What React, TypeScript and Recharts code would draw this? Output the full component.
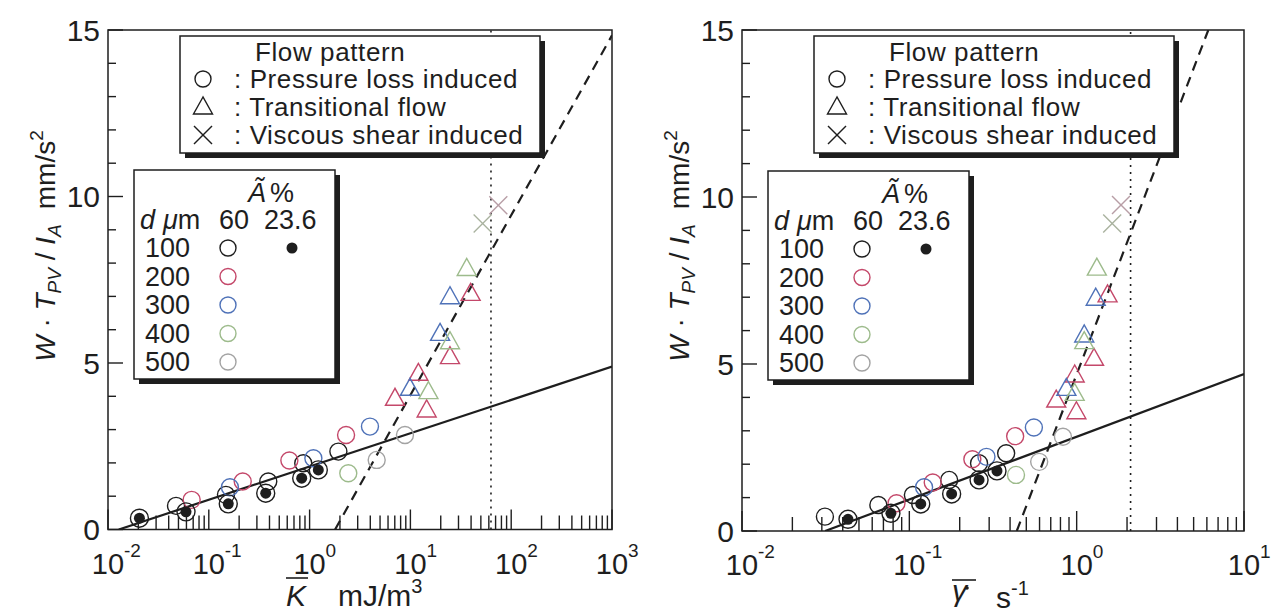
import React from "react";
import { ScatterChart, Scatter, XAxis, YAxis, ReferenceLine, ReferenceArea } from "recharts";

const FONT = '"Liberation Sans", Arial, Helvetica, sans-serif';
const INK = "#1e1e1e";
const RED = "#c4486a";
const BLUE = "#4f72b8";
const GREEN = "#9dbb8c";
const GREY = "#a3a3a3";
const MAUVE = "#b89ea6";
const SAGE = "#a9b29f";

// left panel: mean kinetic energy K (mJ/m3) vs W*Tpv/Ia
const kOpen100 = [{ x: 0.0473, y: 0.71 }, { x: 0.148, y: 1.04 }, { x: 0.389, y: 1.44 }, { x: 0.865, y: 1.99 }, { x: 1.93, y: 2.34 }];
const kOpen200 = [{ x: 0.0676, y: 0.89 }, { x: 0.217, y: 1.44 }, { x: 0.63, y: 2.07 }, { x: 2.3, y: 2.84 }];
const kOpen300 = [{ x: 0.162, y: 1.27 }, { x: 1.09, y: 2.14 }, { x: 3.97, y: 3.09 }];
const kOpen400 = [{ x: 2.42, y: 1.69 }];
const kOpen500 = [{ x: 4.63, y: 2.09 }, { x: 8.83, y: 2.84 }];
const kFilled100 = [{ x: 0.0205, y: 0.34 }, { x: 0.0594, y: 0.53 }, { x: 0.156, y: 0.77 }, { x: 0.367, y: 1.09 }, { x: 0.835, y: 1.54 }, { x: 1.22, y: 1.79 }];
const kTri200 = [{ x: 7.03, y: 3.94 }, { x: 12.0, y: 4.69 }, { x: 14.5, y: 3.59 }, { x: 24.7, y: 5.19 }, { x: 39.6, y: 7.09 }];
const kTri300 = [{ x: 9.9, y: 4.24 }, { x: 19.7, y: 5.89 }, { x: 24.7, y: 6.99 }];
const kTri400 = [{ x: 15.1, y: 4.14 }, { x: 24.7, y: 5.64 }, { x: 36.2, y: 7.84 }];
const kCross200 = [{ x: 74.5, y: 9.74 }];
const kCross400 = [{ x: 52.1, y: 9.19 }];
const kFitLow = [{ x: 0.0128, y: 0 }, { x: 1000, y: 4.89 }];
const kFitHigh = [{ x: 1.79, y: 0 }, { x: 1000, y: 14.84 }];
const kLimit = 63;

// right panel: mean shear rate (1/s)
const gOpen100 = [{ x: 0.0313, y: 0.43 }, { x: 0.0653, y: 0.78 }, { x: 0.105, y: 1.08 }, { x: 0.173, y: 1.53 }, { x: 0.261, y: 2.03 }, { x: 0.379, y: 2.33 }];
const gOpen200 = [{ x: 0.0838, y: 0.83 }, { x: 0.138, y: 1.45 }, { x: 0.238, y: 2.15 }, { x: 0.429, y: 2.84 }];
const gOpen300 = [{ x: 0.1225, y: 1.31 }, { x: 0.289, y: 2.22 }, { x: 0.555, y: 3.1 }];
const gOpen400 = [{ x: 0.434, y: 1.68 }];
const gOpen500 = [{ x: 0.597, y: 2.07 }, { x: 0.828, y: 2.82 }];
const gFilled100 = [{ x: 0.043, y: 0.35 }, { x: 0.0776, y: 0.53 }, { x: 0.117, y: 0.81 }, { x: 0.179, y: 1.11 }, { x: 0.261, y: 1.53 }, { x: 0.334, y: 1.8 }];
const gTri200 = [{ x: 0.755, y: 3.92 }, { x: 0.973, y: 4.67 }, { x: 0.996, y: 3.57 }, { x: 1.27, y: 5.17 }, { x: 1.53, y: 7.07 }];
const gTri300 = [{ x: 0.868, y: 4.27 }, { x: 1.11, y: 5.87 }, { x: 1.3, y: 6.97 }];
const gTri400 = [{ x: 0.973, y: 4.12 }, { x: 1.11, y: 5.67 }, { x: 1.32, y: 7.87 }];
const gCross200 = [{ x: 1.84, y: 9.76 }];
const gCross400 = [{ x: 1.63, y: 9.21 }];
const gFitLow = [{ x: 0.0314, y: 0 }, { x: 10, y: 4.7 }];
const gFitHigh = [{ x: 0.4385, y: 0 }, { x: 6.12, y: 15 }];
const gLimit = 2.1;

const kMajors = [0.01, 0.1, 1, 10, 100, 1000];
const gMajors = [0.01, 0.1, 1, 10];
const minorSteps = [2, 3, 4, 5, 6, 7, 8, 9];
const yTicks = [0, 1, 2, 3, 4, 5, 6, 7, 8, 9, 10, 11, 12, 13, 14, 15];
const yLabels = [0, 5, 10, 15];
const sizes = ["100", "200", "300", "400", "500"];
const sizeColors = [INK, RED, BLUE, GREEN, GREY];

const withMinors = (majors: number[]) => {
  const out: number[] = [];
  majors.forEach((m, i) => {
    out.push(m);
    if (i < majors.length - 1) minorSteps.forEach((s) => out.push(+(m * s).toPrecision(3)));
  });
  return out;
};

const ring = (color: string) => (p: any) => (
  <circle cx={p.cx} cy={p.cy} r={8.5} fill="none" stroke={color} strokeWidth={1.4} />
);
const dotRing = (p: any) => (
  <g>
    <circle cx={p.cx} cy={p.cy} r={9} fill="none" stroke={INK} strokeWidth={1.4} />
    <circle cx={p.cx} cy={p.cy} r={5.5} fill={INK} />
  </g>
);
const tri = (color: string) => (p: any) => (
  <polygon
    points={`${p.cx},${p.cy - 10} ${p.cx - 9.5},${p.cy + 7} ${p.cx + 9.5},${p.cy + 7}`}
    fill="none"
    stroke={color}
    strokeWidth={1.4}
  />
);
const cross = (color: string) => (p: any) => (
  <g stroke={color} strokeWidth={1.4}>
    <line x1={p.cx - 9} y1={p.cy - 9} x2={p.cx + 9} y2={p.cy + 9} />
    <line x1={p.cx - 9} y1={p.cy + 9} x2={p.cx + 9} y2={p.cy - 9} />
  </g>
);
const none = () => <g />;

const XTick = ({ x, y, payload, majors }: any) => {
  const v = payload.value;
  const major = majors.some((m: number) => Math.abs(m - v) / m < 1e-6);
  const exp = Math.round(Math.log10(v));
  return (
    <g>
      <line x1={x} x2={x} y1={y} y2={y - (major ? 20 : 14)} stroke={INK} strokeWidth={1.4} />
      {major && (
        <g fill={INK} fontFamily={FONT}>
          <text x={x} y={y + 44} textAnchor="middle" fontSize={29}>10</text>
          <text x={x + 16} y={y + 27} fontSize={19}>{exp}</text>
        </g>
      )}
    </g>
  );
};

const YTick = ({ x, y, payload }: any) => {
  const v = payload.value;
  const major = yLabels.includes(v);
  return (
    <g>
      <line x1={x} x2={x + (major ? 15 : 8)} y1={y} y2={y} stroke={INK} strokeWidth={1.4} />
      {major && (
        <text x={x - 8} y={y} dy="0.36em" textAnchor="end" fontSize={30} fill={INK} fontFamily={FONT}>
          {v}
        </text>
      )}
    </g>
  );
};

function Panel({ width, margin, domain, majors, series, fitLow, fitHigh, limit }: any) {
  return (
    <ScatterChart width={width} height={616} margin={margin}>
      <XAxis
        type="number"
        dataKey="x"
        scale="log"
        domain={domain}
        allowDataOverflow
        ticks={withMinors(majors)}
        interval={0}
        tick={<XTick majors={majors} />}
        tickSize={0}
        tickMargin={0}
        tickLine={false}
        axisLine={false}
        height={50}
      />
      <YAxis
        type="number"
        dataKey="y"
        domain={[0, 15]}
        allowDataOverflow
        ticks={yTicks}
        interval={0}
        tick={<YTick />}
        tickSize={0}
        tickMargin={0}
        tickLine={false}
        axisLine={false}
        width={60}
      />
      <ReferenceArea x1={domain[0]} x2={domain[1]} y1={0} y2={15} fill="none" stroke={INK} strokeWidth={1.5} />
      <ReferenceLine x={limit} stroke={INK} strokeWidth={1.6} strokeDasharray="2 5" />
      <Scatter data={fitLow} line={{ stroke: INK, strokeWidth: 2.2 }} shape={none} isAnimationActive={false} />
      <Scatter data={fitHigh} line={{ stroke: INK, strokeWidth: 2.2, strokeDasharray: "10 7" }} shape={none} isAnimationActive={false} />
      {series.map((s: any, i: number) => (
        <Scatter key={i} data={s.data} shape={s.shape} isAnimationActive={false} />
      ))}
    </ScatterChart>
  );
}

function Legends({ ax, top2 }: { ax: number; top2: number }) {
  const rowY = [88, 116, 144];
  const marks = [
    <circle cx={ax + 95} cy={rowY[0] - 9} r={8} fill="none" stroke={INK} strokeWidth={1.4} />,
    <polygon points={`${ax + 95},${rowY[1] - 19} ${ax + 85.5},${rowY[1] - 2} ${ax + 104.5},${rowY[1] - 2}`} fill="none" stroke={INK} strokeWidth={1.4} />,
    <g stroke={INK} strokeWidth={1.4}>
      <line x1={ax + 86} y1={rowY[2] - 18} x2={ax + 104} y2={rowY[2]} />
      <line x1={ax + 86} y1={rowY[2]} x2={ax + 104} y2={rowY[2] - 18} />
    </g>,
  ];
  const labels = [": Pressure loss induced", ": Transitional flow", ": Viscous shear induced"];
  return (
    <g fontFamily={FONT} fill={INK}>
      <rect x={ax + 77} y={41} width={360} height={117} fill={INK} />
      <rect x={ax + 72} y={36} width={360} height={117} fill="#fff" stroke={INK} strokeWidth={1.5} />
      <text x={ax + 147} y={61} fontSize={26} letterSpacing={0.6}>Flow pattern</text>
      {labels.map((t, i) => (
        <g key={t}>
          {marks[i]}
          <text x={ax + 126} y={rowY[i]} fontSize={26} letterSpacing={0.6}>{t}</text>
        </g>
      ))}

      <rect x={ax + 31} y={top2 + 5} width={201} height={209} fill={INK} />
      <rect x={ax + 26} y={top2} width={201} height={209} fill="#fff" stroke={INK} strokeWidth={1.5} />
      <text x={ax + 140} y={top2 + 32} fontSize={27}>
        <tspan fontStyle="italic">Ã</tspan>
        <tspan dx={4}>%</tspan>
      </text>
      <text x={ax + 32} y={top2 + 59} fontSize={27}>
        <tspan fontStyle="italic">d</tspan>
        <tspan dx={8} fontStyle="italic">μ</tspan>
        <tspan>m</tspan>
        <tspan x={ax + 111}>60</tspan>
        <tspan x={ax + 156}>23.6</tspan>
      </text>
      {sizes.map((s, i) => {
        const base = top2 + 87 + i * 28.5;
        return (
          <g key={s}>
            <text x={ax + 37} y={base} fontSize={27}>{s}</text>
            <circle cx={ax + 120} cy={base - 9} r={8} fill="none" stroke={sizeColors[i]} strokeWidth={1.4} />
          </g>
        );
      })}
      <circle cx={ax + 184} cy={top2 + 78} r={5.5} fill={INK} />
    </g>
  );
}

function YTitle({ cx }: { cx: number }) {
  return (
    <text transform={`translate(${cx}, 246) rotate(-90)`} textAnchor="middle" fontSize={28} fill={INK} fontFamily={FONT}>
      <tspan fontStyle="italic">W</tspan>
      <tspan> · </tspan>
      <tspan fontStyle="italic">T</tspan>
      <tspan fontStyle="italic" fontSize={19} dy={6}>PV</tspan>
      <tspan dy={-6}> / </tspan>
      <tspan fontStyle="italic">I</tspan>
      <tspan fontStyle="italic" fontSize={19} dy={6}>A</tspan>
      <tspan dy={-6} dx={15}>mm/s</tspan>
      <tspan fontSize={19} dy={-12}>2</tspan>
    </text>
  );
}

export default function App() {
  const kSeries = [
    { data: kOpen100, shape: ring(INK) },
    { data: kOpen200, shape: ring(RED) },
    { data: kOpen300, shape: ring(BLUE) },
    { data: kOpen400, shape: ring(GREEN) },
    { data: kOpen500, shape: ring(GREY) },
    { data: kFilled100, shape: dotRing },
    { data: kTri200, shape: tri(RED) },
    { data: kTri300, shape: tri(BLUE) },
    { data: kTri400, shape: tri(GREEN) },
    { data: kCross200, shape: cross(MAUVE) },
    { data: kCross400, shape: cross(SAGE) },
  ];
  const gSeries = [
    { data: gOpen100, shape: ring(INK) },
    { data: gOpen200, shape: ring(RED) },
    { data: gOpen300, shape: ring(BLUE) },
    { data: gOpen400, shape: ring(GREEN) },
    { data: gOpen500, shape: ring(GREY) },
    { data: gFilled100, shape: dotRing },
    { data: gTri200, shape: tri(RED) },
    { data: gTri300, shape: tri(BLUE) },
    { data: gTri400, shape: tri(GREEN) },
    { data: gCross200, shape: cross(MAUVE) },
    { data: gCross400, shape: cross(SAGE) },
  ];
  return (
    <div style={{ position: "absolute", left: 0, top: 0, width: 1272, height: 616, background: "#fff", overflow: "hidden" }}>
      <div style={{ position: "absolute", left: 0, top: 0 }}>
        <Panel
          width={640}
          margin={{ top: 30, right: 28, bottom: 36.5, left: 48 }}
          domain={[0.01, 1000]}
          majors={kMajors}
          series={kSeries}
          fitLow={kFitLow}
          fitHigh={kFitHigh}
          limit={kLimit}
        />
      </div>
      <div style={{ position: "absolute", left: 636, top: 0 }}>
        <Panel
          width={636}
          margin={{ top: 30, right: 28, bottom: 35, left: 46 }}
          domain={[0.01, 10]}
          majors={gMajors}
          series={gSeries}
          fitLow={gFitLow}
          fitHigh={gFitHigh}
          limit={gLimit}
        />
      </div>
      <svg width={1272} height={616} style={{ position: "absolute", left: 0, top: 0, pointerEvents: "none" }}>
        <Legends ax={108} top2={170} />
        <Legends ax={742} top2={171} />
        <YTitle cx={55} />
        <YTitle cx={689} />
        <g fontFamily={FONT} fill={INK} fontSize={30}>
          <text x={286} y={606} fontStyle="italic">K</text>
          <line x1={286} x2={308} y1={578} y2={578} stroke={INK} strokeWidth={1.6} />
          <text x={338} y={606}>
            mJ/m<tspan fontSize={20} dy={-13}>3</tspan>
          </text>
          <text x={952} y={601} fontStyle="italic">γ</text>
          <circle cx={967} cy={588} r={1.8} fill={INK} />
          <line x1={952} x2={976} y1={580} y2={580} stroke={INK} strokeWidth={1.6} />
          <text x={996} y={608}>
            s<tspan fontSize={20} dy={-13}>-1</tspan>
          </text>
        </g>
      </svg>
    </div>
  );
}
